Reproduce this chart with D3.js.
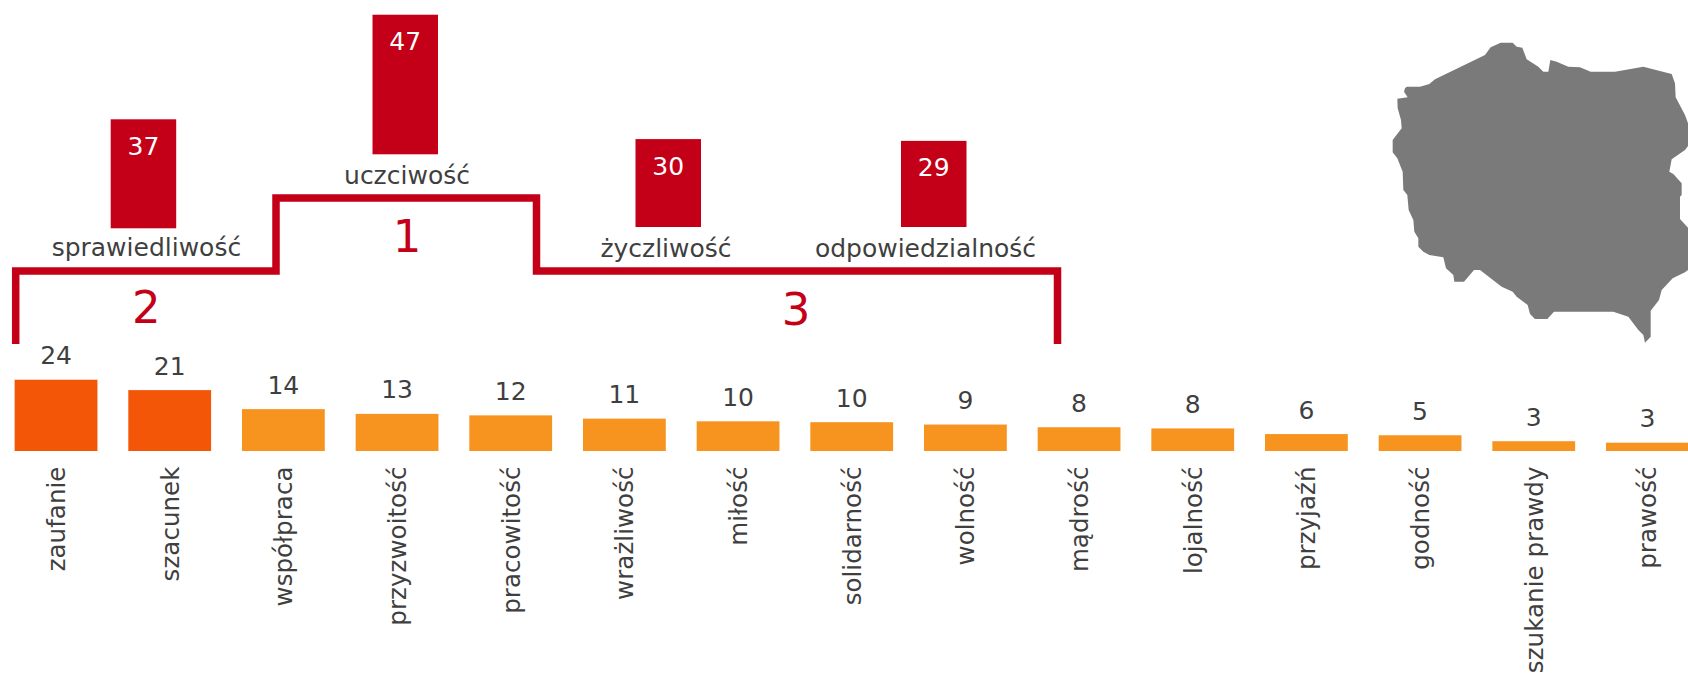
<!DOCTYPE html>
<html>
<head>
<meta charset="utf-8">
<script src="https://cdnjs.cloudflare.com/ajax/libs/d3/7.8.5/d3.min.js"></script>
<style>
    html, body { margin: 0; padding: 0; background: #fff; overflow: hidden; }
    svg { display: block; }
    text { font-family: "DejaVu Sans", sans-serif; }
</style>
</head>
<body>
<svg id="chart" width="1688" height="676"></svg>
<script>
// top values (podium)
const topCategories = ['sprawiedliwość', 'uczciwość', 'życzliwość', 'odpowiedzialność'];
const topValues = [36.7, 47, 29.6, 29];
const topLabels = ['37', '47', '30', '29'];
const topRanks = ['2', '1', '3'];

// remaining values
const categories = ['zaufanie', 'szacunek', 'współpraca', 'przyzwoitość', 'pracowitość', 'wrażliwość', 'miłość',
    'solidarność', 'wolność', 'mądrość', 'lojalność', 'przyjaźń', 'godność', 'szukanie prawdy', 'prawość'];
const values = [24, 20.5, 14.1, 12.5, 12, 10.9, 10, 9.7, 8.9, 8, 7.6, 5.7, 5.3, 3.3, 2.8];
const valueLabels = ['24', '21', '14', '13', '12', '11', '10', '10', '9', '8', '8', '6', '5', '3', '3'];
const highlighted = ['zaufanie', 'szacunek'];

// outline of the map, traced in a 984x1020 box
const mapOutline = [[135,205],[140,200],[180,200],[208,192],[225,178],[375,105],[392,82],[422,68],[458,68],[470,80],
    [487,83],[500,118],[535,140],[550,155],[565,155],[571,120],[590,125],[625,140],[660,142],[692,155],[765,155],
    [850,140],[935,162],[945,190],[947,232],[975,285],[984,310],[990,340],[990,370],[975,390],[935,418],[928,455],
    [940,462],[965,490],[965,525],[960,530],[960,597],[990,630],[990,745],[975,757],[938,775],[905,810],[897,840],
    [872,872],[872,950],[855,968],[850,945],[835,930],[805,890],[760,875],[582,875],[562,897],[525,897],[510,882],
    [503,855],[470,830],[458,815],[425,800],[360,750],[342,750],[312,785],[283,785],[280,765],[258,745],[250,712],
    [208,705],[190,695],[175,680],[175,655],[163,635],[160,600],[146,570],[142,525],[130,510],[128,455],[112,415],
    [98,397],[98,360],[125,325],[123,300],[113,265],[112,236],[143,232],[132,215]];

const RED = '#c40018', ORANGE = '#f79420', DARK_ORANGE = '#f25606', TEXT = '#3f3f3f', GREY = '#7a7a7a';

const svg = d3.select('#chart');

// shared height scale
const h = d3.scaleLinear().domain([0, 50]).range([0, 148.5]);

// bottom row
const baseline = 451;
const x = d3.scaleBand().domain(categories).range([-0.8, 1704.25]).paddingInner(0.2716).paddingOuter(0.1358);

const bottom = svg.append('g').attr('class', 'bottom');
bottom.selectAll('rect').data(categories).enter().append('rect')
    .attr('x', d => x(d))
    .attr('y', (d, i) => baseline - h(values[i]))
    .attr('width', x.bandwidth())
    .attr('height', (d, i) => h(values[i]))
    .style('fill', d => highlighted.includes(d) ? DARK_ORANGE : ORANGE);

bottom.selectAll('.value').data(categories).enter().append('text')
    .attr('class', 'value')
    .attr('x', d => x(d) + x.bandwidth() / 2)
    .attr('y', (d, i) => baseline - h(values[i]) - 15.5)
    .attr('text-anchor', 'middle')
    .style('font-size', '25px')
    .style('fill', TEXT)
    .text((d, i) => valueLabels[i]);

// a bit under 25px so the longest label still fits above the bottom edge
bottom.selectAll('.category').data(categories).enter().append('text')
    .attr('class', 'category')
    .attr('transform', d => `translate(${x(d) + x.bandwidth() / 2 + 9}, 466.5) rotate(-90)`)
    .attr('text-anchor', 'end')
    .style('font-size', '24.6px')
    .style('fill', TEXT)
    .text(d => d);

// podium bars stand on uneven steps
const topX = d3.scaleOrdinal(topCategories, [110.7, 372.5, 635.5, 901]);
const topBase = d3.scaleOrdinal(topCategories, [228.3, 154.3, 227, 227]);
const topLabelX = d3.scaleOrdinal(topCategories, [146.4, 407, 666, 925.5]);
const topLabelY = d3.scaleOrdinal(topCategories, [256, 184, 256.7, 256.7]);
const topWidth = 65.5;

const podium = svg.append('g').attr('class', 'podium');
podium.selectAll('rect').data(topCategories).enter().append('rect')
    .attr('x', d => topX(d))
    .attr('y', (d, i) => topBase(d) - h(topValues[i]))
    .attr('width', topWidth)
    .attr('height', (d, i) => h(topValues[i]))
    .style('fill', RED);

podium.selectAll('.value').data(topCategories).enter().append('text')
    .attr('class', 'value')
    .attr('x', d => topX(d) + topWidth / 2)
    .attr('y', (d, i) => topBase(d) - h(topValues[i]) + 35.5)
    .attr('text-anchor', 'middle')
    .style('font-size', '25px')
    .style('fill', '#fff')
    .text((d, i) => topLabels[i]);

podium.selectAll('.category').data(topCategories).enter().append('text')
    .attr('class', 'category')
    .attr('x', d => topLabelX(d))
    .attr('y', d => topLabelY(d))
    .attr('text-anchor', 'middle')
    .style('font-size', '25px')
    .style('fill', TEXT)
    .text(d => d);

// stair line
const stepLine = d3.line();
const stairs = [[15.7, 344], [15.7, 271], [276, 271], [276, 198], [536.5, 198], [536.5, 271], [1057.5, 271], [1057.5, 344]];
podium.append('path')
    .attr('d', stepLine(stairs))
    .style('fill', 'none')
    .style('stroke', RED)
    .style('stroke-width', 7.5)
    .style('stroke-linejoin', 'miter');

const rankX = [146.4, 407, 796];
const rankY = [323, 251.7, 325];
podium.selectAll('.rank').data(topRanks).enter().append('text')
    .attr('class', 'rank')
    .attr('x', (d, i) => rankX[i])
    .attr('y', (d, i) => rankY[i])
    .attr('text-anchor', 'middle')
    .style('font-size', '45px')
    .style('fill', RED)
    .text(d => d);

// map, cut off by the right edge
const mapX = d3.scaleLinear().domain([0, 984]).range([1360, 1688]);
const mapY = d3.scaleLinear().domain([0, 1020]).range([20, 360]);
const mapLine = d3.line().x(d => mapX(d[0])).y(d => mapY(d[1])).curve(d3.curveLinearClosed);
svg.append('path')
    .attr('d', mapLine(mapOutline))
    .style('fill', GREY);
</script>
</body>
</html>
